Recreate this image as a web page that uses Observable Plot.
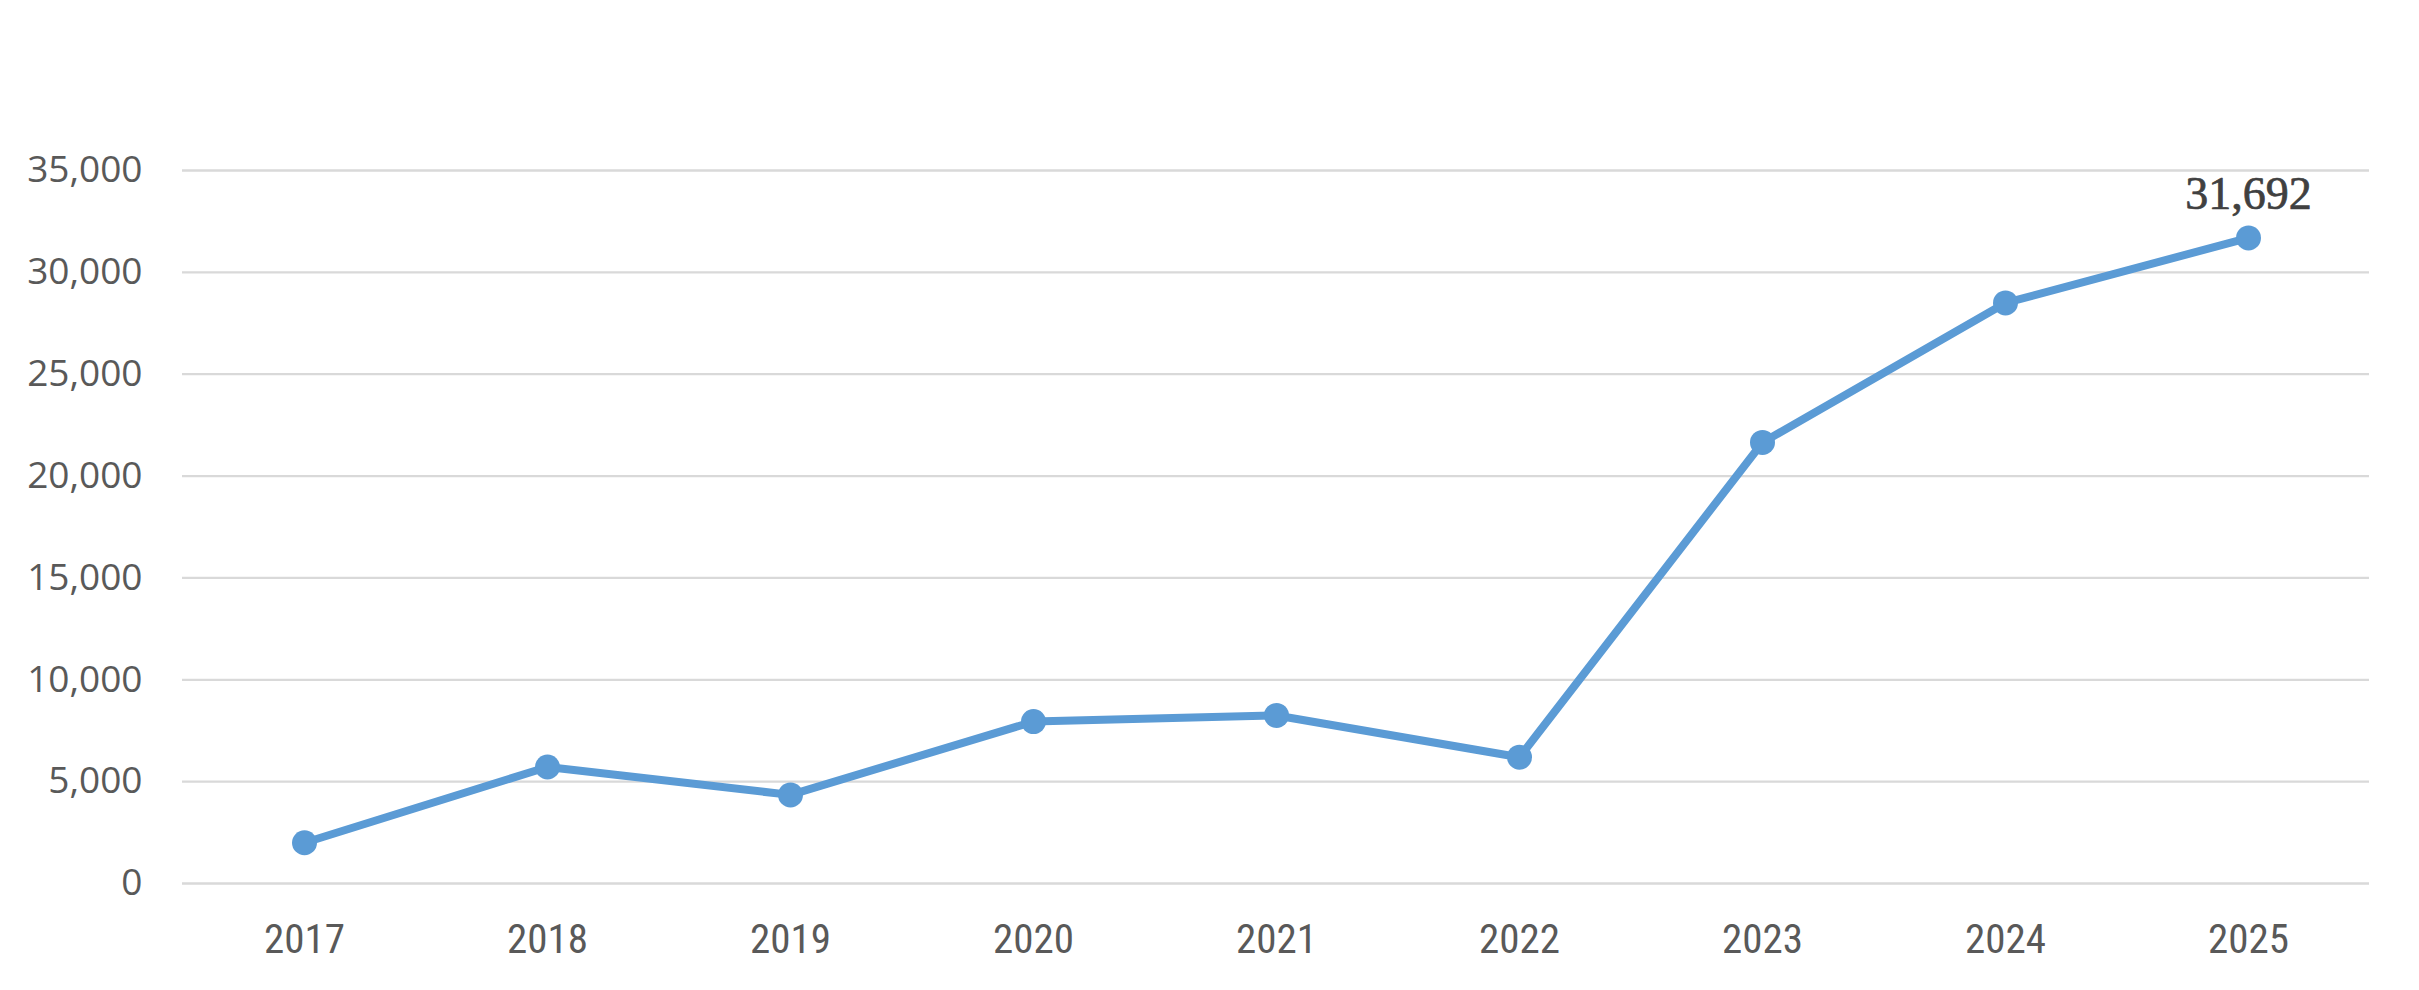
<!DOCTYPE html>
<html>
<head>
<meta charset="utf-8">
<script src="https://cdn.jsdelivr.net/npm/d3@7"></script>
<script src="https://cdn.jsdelivr.net/npm/@observablehq/plot@0.6"></script>
<style>
  html, body { margin: 0; padding: 0; background: #fff; }
  #chart svg { display: block; }
</style>
</head>
<body>
<div id="chart"></div>
<script>
const years = ["2017", "2018", "2019", "2020", "2021", "2022", "2023", "2024", "2025"];
const values = [2000, 5720, 4350, 7950, 8250, 6200, 21650, 28500, 31692];
const yTicks = [0, 5000, 10000, 15000, 20000, 25000, 30000, 35000];
const labelYear = "2025";
const labelText = "31,692";

const data = years.map((y, i) => ({year: y, value: values[i]}));
const labelData = data.filter(d => d.year === labelYear);

const fmt = d3.format(",");

const chart = Plot.plot({
  width: 2419,
  height: 990,
  marginLeft: 182,
  marginRight: 50,
  marginTop: 170,
  marginBottom: 107,
  style: {background: "#fff", overflow: "visible"},
  x: {type: "point", domain: years, padding: 0.5, label: null},
  y: {domain: [0, 35000], label: null},
  marks: [
    Plot.gridY(yTicks, {stroke: "#d9d9d9", strokeWidth: 2.3, strokeOpacity: 1}),
    Plot.axisY(yTicks, {
      tickSize: 0, tickPadding: 40, tickFormat: fmt,
      fontSize: 37, fontFamily: "Open Sans", fill: "#595959", label: null
    }),
    Plot.axisX({
      tickSize: 0, tickPadding: 40,
      fontSize: 41, fontFamily: "Liberation Sans Narrow, Roboto Condensed, sans-serif", fill: "#595959", label: null
    }),
    Plot.line(data, {x: "year", y: "value", stroke: "#5b9bd5", strokeWidth: 8, strokeLinejoin: "round"}),
    Plot.dot(data, {x: "year", y: "value", r: 12.5, fill: "#5b9bd5", stroke: "none"}),
    Plot.text(labelData, {
      x: "year", y: "value", text: () => labelText, dy: -29, lineAnchor: "bottom",
      fontSize: 46, fontFamily: "Liberation Serif", fontWeight: "normal",
      fill: "#404040", stroke: "#404040", strokeWidth: 0.7
    })
  ]
});
document.getElementById("chart").appendChild(chart);
</script>
</body>
</html>
